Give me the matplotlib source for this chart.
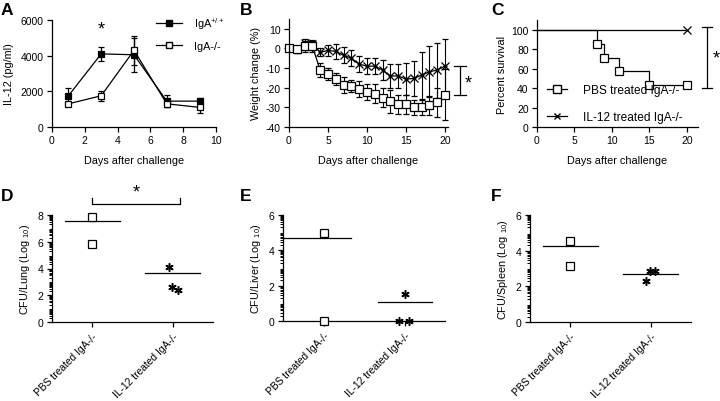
import numpy as np
import matplotlib
matplotlib.use("Agg")
import matplotlib.pyplot as plt
from matplotlib.lines import Line2D
from matplotlib.ticker import FixedLocator

plt.rcParams['font.family'] = ['Liberation Sans', 'DejaVu Sans']
plt.rcParams['axes.unicode_minus'] = False
plt.rcParams['font.size'] = 7.5

# ---------------- data ----------------
# Panel A: IL-12 levels
a_days = [1, 3, 5, 7, 9]
a_wt = [1750, 4100, 4050, 1450, 1450]
a_wt_err = [450, 400, 950, 350, 150]
a_ko = [1300, 1750, 4300, 1300, 1100]
a_ko_err = [100, 270, 800, 200, 330]

# Panel B: weight change
b_days = list(range(0, 21))
b_pbs = [0, -0.5, 1, 1, -11, -13, -15.5, -18.7, -19, -20.5, -22, -23, -25, -27,
         -28.5, -28.5, -30, -30, -29, -27.5, -23.5]
b_pbs_err = [0, 2, 3, 3, 3.5, 3, 3, 4, 3, 4, 4, 5, 5, 6, 5, 5, 4, 4, 5, 7.5, 13]
b_il12 = [0, -0.5, 3, 2.5, -2, -1, -1.5, -3.5, -5, -8, -9, -9, -11, -14, -14,
          -15.6, -15.3, -13.6, -11.9, -11, -9]
b_il12_err = [0, 2, 2, 2, 2, 3, 4, 4, 4, 4, 4, 4, 5, 6, 6, 8, 9, 12, 13, 14, 14]

# Panel C: survival
c_pbs_t = [0, 8, 9, 11, 15, 20]
c_pbs_s = [100, 85.7, 71.4, 57.1, 42.9, 42.9]
c_il12_t = [0, 20]
c_il12_s = [100, 100]

# Panels D-F: CFU (log10)
groups = ['PBS treated IgA-/-', 'IL-12 treated IgA-/-']
d_pbs = [7.83, 5.83]
d_il12 = [4.09, 2.39, 2.59]
d_means = [7.53, 3.64]
e_pbs = [4.98, 0.0]
e_il12 = [1.53, 0.0, 0.0]
e_means = [4.70, 1.08]
f_pbs = [4.55, 3.13]
f_il12 = [2.30, 2.85, 2.85]
f_means = [4.27, 2.70]

# ---------------- layout ----------------
W, H = 720, 402
fig = plt.figure(figsize=(7.2, 4.02), dpi=100)
ASTER = (6, 2, 0)


def ax_at(l, r, t, b):
    return fig.add_axes([l / W, 1 - b / H, (r - l) / W, (b - t) / H])


def style(ax):
    for s in ['top', 'right']:
        ax.spines[s].set_visible(False)
    for s in ['left', 'bottom']:
        ax.spines[s].set_linewidth(0.9)
    ax.tick_params(direction='out', length=3.5, width=0.9, labelsize=7.5, pad=2.5)


def panel_letter(x, y, s):
    fig.text(x / W, 1 - y / H, s, fontsize=12.5, fontweight='bold', ha='left', va='top')


LW = 0.9

# ---- A ----
axA = ax_at(52, 216, 21, 128)
style(axA)
axA.errorbar(a_days, a_wt, yerr=a_wt_err, fmt='-s', color='k', mfc='k', mec='k',
             ms=4.8, mew=LW, lw=LW, elinewidth=LW, capsize=2.5, capthick=LW, clip_on=False)
axA.errorbar(a_days, a_ko, yerr=a_ko_err, fmt='-s', color='k', mfc='white', mec='k',
             ms=4.8, mew=LW, lw=LW, elinewidth=LW, capsize=2.5, capthick=LW, clip_on=False)
axA.set_xlim(0, 10)
axA.set_ylim(0, 6000)
axA.set_xticks([0, 2, 4, 6, 8, 10])
axA.set_yticks([0, 2000, 4000, 6000])
axA.set_xlabel('Days after challenge', fontsize=7.8, labelpad=7)
axA.set_ylabel('IL-12 (pg/ml)', fontsize=7.8, labelpad=5)
axA.text(3, 5500, '*', ha='center', va='center', fontsize=13)
hA = [Line2D([], [], color='k', marker='s', mfc='k', ms=4.8, lw=LW),
      Line2D([], [], color='k', marker='s', mfc='white', ms=4.8, lw=LW)]
axA.legend(hA, ['IgA$^{\\mathregular{+/+}}$', 'IgA-/-'], loc='upper left',
           bbox_to_anchor=(156 / W, 1 - 16 / H), bbox_transform=fig.transFigure,
           frameon=False, fontsize=7.8, handlelength=2.4, handletextpad=1.1,
           labelspacing=0.9, borderpad=0, borderaxespad=0)
panel_letter(1, 3, 'A')

# ---- B ----
axB = ax_at(289, 448, 20, 128)
style(axB)
axB.errorbar(b_days, b_il12, yerr=b_il12_err, fmt='-x', color='k', ms=5.5, mew=LW,
             lw=LW, elinewidth=0.8, capsize=2.5, capthick=0.8, clip_on=False)
axB.plot(b_days, b_il12, 'o', color='k', ms=1.8, clip_on=False)
axB.errorbar(b_days, b_pbs, yerr=b_pbs_err, fmt='-s', color='k', mfc='white', mec='k',
             ms=5.2, mew=LW, lw=LW, elinewidth=0.8, capsize=2.5, capthick=0.8, clip_on=False)
axB.set_xlim(0, 20.4)
axB.set_ylim(-40, 15)
axB.set_xticks([0, 5, 10, 15, 20])
axB.set_yticks([-40, -30, -20, -10, 0, 10])
axB.set_xlabel('Days after challenge', fontsize=7.8, labelpad=7)
axB.set_ylabel('Weight change (%)', fontsize=7.8, labelpad=3)
bx = 21.9
axB.plot([bx, bx], [-8.8, -23.8], color='k', lw=LW, clip_on=False)
axB.plot([bx - 0.75, bx + 0.75], [-8.8, -8.8], color='k', lw=LW, clip_on=False)
axB.plot([bx - 0.75, bx + 0.75], [-23.8, -23.8], color='k', lw=LW, clip_on=False)
axB.text(23.0, -17.5, '*', ha='center', va='center', fontsize=13, clip_on=False)
panel_letter(240, 3, 'B')

# ---- C ----
axC = ax_at(537, 698, 21, 128)
style(axC)
axC.step(c_il12_t, c_il12_s, where='post', color='k', lw=LW, clip_on=False)
axC.plot(c_il12_t[-1:], c_il12_s[-1:], 'x', color='k', ms=5.5, mew=LW, clip_on=False)
axC.step(c_pbs_t, c_pbs_s, where='post', color='k', lw=LW, clip_on=False)
axC.plot(c_pbs_t[1:], c_pbs_s[1:], 's', color='k', mfc='white', ms=5.2, mew=LW, clip_on=False)
axC.set_xlim(0, 21.5)
axC.set_ylim(0, 110)
axC.set_xticks([0, 5, 10, 15, 20])
axC.set_yticks([0, 20, 40, 60, 80, 100])
axC.set_xlabel('Days after challenge', fontsize=7.8, labelpad=7)
axC.set_ylabel('Percent survival', fontsize=7.8, labelpad=3)
cx = 22.7
axC.plot([cx, cx], [103, 40], color='k', lw=LW, clip_on=False)
axC.plot([cx - 0.65, cx + 0.65], [103, 103], color='k', lw=LW, clip_on=False)
axC.plot([cx - 0.65, cx + 0.65], [40, 40], color='k', lw=LW, clip_on=False)
axC.text(23.95, 71, '*', ha='center', va='center', fontsize=13, clip_on=False)
hC = [Line2D([], [], color='k', marker='s', mfc='white', ms=5.2, lw=LW),
      Line2D([], [], color='k', marker='x', ms=5.0, lw=LW)]
axC.legend(hC, ['PBS treated IgA-/-', 'IL-12 treated IgA-/-'], loc='upper left',
           bbox_to_anchor=(547 / W, 1 - 85 / H), bbox_transform=fig.transFigure,
           frameon=False, fontsize=8.6, handlelength=1.7, handletextpad=1.3,
           labelspacing=1.25, borderpad=0, borderaxespad=0)
panel_letter(491, 3, 'C')


# ---- D-F ----
def dot_panel(l, r, t, b, pbs, il12, means, ymax, ylabel, letter, lx, il12_off,
              mean_left=(-0.34, 0.66)):
    ax = ax_at(l, r, t, b)
    style(ax)
    ax.plot(np.zeros(len(pbs)), pbs, 's', color='k', mfc='white', ms=5.5, mew=LW,
            clip_on=False, zorder=4)
    ax.plot(1 + np.array(il12_off), il12, marker=ASTER, ls='none', color='k', ms=6,
            mew=1.1, clip_on=False, zorder=4)
    for i, m in enumerate(means):
        ax.plot([mean_left[i], i + 0.34], [m, m], color='k', lw=LW, clip_on=False)
    ax.set_xlim(-0.5, 1.5)
    ax.set_ylim(0, ymax)
    ax.set_yticks(list(range(0, ymax + 1, 2)))
    minor = [k + np.log10(mm) for k in range(ymax) for mm in range(2, 10)]
    ax.yaxis.set_minor_locator(FixedLocator(minor))
    ax.tick_params(axis='y', which='minor', length=2.4, width=0.7, direction='out')
    ax.set_xticks([0, 1])
    ax.set_xticklabels(groups, rotation=45, ha='right', rotation_mode='anchor',
                       fontsize=7.4)
    ax.tick_params(axis='x', pad=3)
    ax.set_ylabel(ylabel, fontsize=7.8, labelpad=4)
    panel_letter(lx, 189, letter)
    return ax


axD = dot_panel(52, 213, 216, 323, d_pbs, d_il12, d_means, 8,
                'CFU/Lung (Log $_{\\mathregular{10}}$)', 'D', 1, [-0.05, 0.06, -0.01])
# significance bracket in D
axD.plot([0, 0, 1.09, 1.09], [9.25, 8.82, 8.82, 9.25], color='k', lw=LW, clip_on=False)
axD.text(0.55, 9.7, '*', ha='center', va='center', fontsize=13, clip_on=False)

axE = dot_panel(283, 445, 216, 322, e_pbs, e_il12, e_means, 6,
                'CFU/Liver (Log $_{\\mathregular{10}}$)', 'E', 240, [0.0, -0.07, 0.06],
                mean_left=(-0.5, 0.675))

axF = dot_panel(530, 691, 216, 323, f_pbs, f_il12, f_means, 6,
                'CFU/Spleen (Log $_{\\mathregular{10}}$)', 'F', 491, [-0.06, -0.01, 0.05])

fig.savefig('out.png', dpi=100)
